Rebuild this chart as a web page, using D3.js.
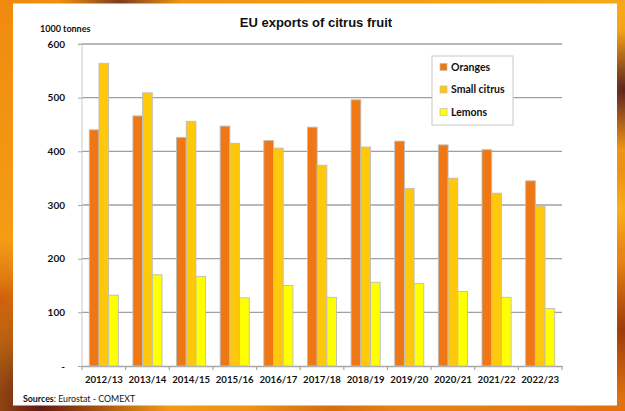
<!DOCTYPE html>
<html><head><meta charset="utf-8">
<script src="https://cdn.jsdelivr.net/npm/d3@7"></script>
<style>
html,body{margin:0;padding:0;background:#f39a10;}
svg{display:block;}
</style></head>
<body>
<script>
const categories = ["2012/13","2013/14","2014/15","2015/16","2016/17","2017/18","2018/19","2019/20","2020/21","2021/22","2022/23"];
const seriesNames = ["Oranges","Small citrus","Lemons"];
const oranges = [440,466,426,447,420,445,496,419,412,403,345];
const smallCitrus = [564,509,456,415,406,374,408,331,350,322,298];
const lemons = [132,170,167,127,150,128,156,154,139,128,107];
const yTicks = [0,100,200,300,400,500,600];
const colors = ["#F07814","#FFC80A","#FFFF00"];

const W = 625, H = 411;
const svg = d3.select("body").append("svg").attr("width", W).attr("height", H);
const defs = svg.append("defs");

// background (photo of oranges approximated with gradients)
const bg = defs.append("linearGradient").attr("id","bg").attr("x1","0").attr("y1","0").attr("x2","1").attr("y2","1");
bg.append("stop").attr("offset","0").attr("stop-color","#f08a10");
bg.append("stop").attr("offset","0.5").attr("stop-color","#f7a818");
bg.append("stop").attr("offset","1").attr("stop-color","#e07010");
svg.append("rect").attr("width",W).attr("height",H).attr("fill","url(#bg)");
function blob(id, cx, cy, r, col, op){
  const g = defs.append("radialGradient").attr("id",id);
  g.append("stop").attr("offset","0").attr("stop-color",col).attr("stop-opacity",op);
  g.append("stop").attr("offset","1").attr("stop-color",col).attr("stop-opacity",0);
  svg.append("circle").attr("cx",cx).attr("cy",cy).attr("r",r).attr("fill",`url(#${id})`);
}
blob("b1", 40, 405, 130, "#5a1010", 0.95);
blob("b2", 120, 0, 60, "#4a1a20", 0.7);
blob("b3", 625, 90, 60, "#4a1420", 0.9);
blob("b4", 625, 330, 70, "#8a2a08", 0.8);
blob("b5", 0, 300, 60, "#c04008", 0.6);
blob("b6", 330, 411, 80, "#c05010", 0.5);
blob("b7", 620, 210, 40, "#ffb818", 0.8);

// white panel
svg.append("rect").attr("x",13).attr("y",3.5).attr("width",604).attr("height",402).attr("fill","#fff");

const plot = {l:82, r:562, t:44, b:366};
const x = d3.scaleBand().domain(categories).range([plot.l, plot.r]).paddingInner(0).paddingOuter(0);
const inner = d3.scaleBand().domain(seriesNames).range([x.bandwidth()/6, x.bandwidth()*5/6]).padding(0);
const y = d3.scaleLinear().domain([0,600]).range([plot.b, plot.t]);

// gridlines
svg.append("g").selectAll("line").data(yTicks.filter(d=>d>0)).join("line")
  .attr("x1",plot.l).attr("x2",plot.r).attr("y1",d=>y(d)).attr("y2",d=>y(d))
  .attr("stroke","#a0a0a0").attr("stroke-width",1.3);

// y axis
const yAxis = d3.axisLeft(y).tickValues(yTicks).tickSize(4).tickPadding(13)
  .tickFormat(d => d === 0 ? "-" : d3.format("d")(d));
const yg = svg.append("g").attr("transform",`translate(${plot.l},0)`).call(yAxis);
yg.select(".domain").attr("stroke","#c8c8c8").attr("d", `M-4,${plot.t}H0V${plot.b}`);
yg.selectAll(".tick line").attr("stroke","#a6a6a6");
yg.selectAll(".tick text").attr("font-family","Lato, 'Open Sans', sans-serif").attr("font-weight","bold")
  .attr("font-size","10px").attr("fill","#111");

// x axis
const xAxis = d3.axisBottom(x).tickSize(0).tickPadding(10);
const xg = svg.append("g").attr("transform",`translate(0,${plot.b})`).call(xAxis);
xg.select(".domain").attr("stroke","#a6a6a6").attr("stroke-width",1.3);
xg.selectAll(".tick text").attr("font-family","Lato, 'Open Sans', sans-serif").attr("font-weight","bold")
  .attr("font-size","9.6px").attr("fill","#111");
// category separator ticks
svg.append("g").selectAll("line").data(categories.concat(["_end"])).join("line")
  .attr("x1",(d,i)=>plot.l + i*x.bandwidth()).attr("x2",(d,i)=>plot.l + i*x.bandwidth())
  .attr("y1",plot.b).attr("y2",plot.b+4).attr("stroke","#a6a6a6").attr("stroke-width",1.2);

// bars
const seriesData = [oranges, smallCitrus, lemons];
seriesNames.forEach((name, si) => {
  svg.append("g").selectAll("rect").data(categories).join("rect")
    .attr("x", d => x(d) + inner(name))
    .attr("y", (d,i) => y(seriesData[si][i]))
    .attr("width", inner.bandwidth())
    .attr("height", (d,i) => y(0) - y(seriesData[si][i]))
    .attr("fill", colors[si])
    .attr("stroke","#bdbdbd").attr("stroke-width",0.9);
});

// title
svg.append("text").attr("x",316).attr("y",27).attr("text-anchor","middle")
  .attr("font-family","'Liberation Sans', Arial, sans-serif").attr("font-weight","bold")
  .attr("font-size","13px").attr("fill","#111").text("EU exports of citrus fruit");
svg.append("text").attr("x",40).attr("y",32)
  .attr("font-family","Lato, sans-serif").attr("font-weight","bold")
  .attr("font-size","9px").attr("fill","#111").text("1000 tonnes");

// legend
const lg = svg.append("g");
lg.append("rect").attr("x",432).attr("y",56).attr("width",81).attr("height",69)
  .attr("fill","#fff").attr("stroke","#c8c8c8").attr("stroke-width",1);
seriesNames.forEach((name,i) => {
  const cy = 67 + i*22.5;
  lg.append("rect").attr("x",440).attr("y",cy-3.5).attr("width",7).attr("height",7)
    .attr("fill",colors[i]).attr("stroke","#bdbdbd").attr("stroke-width",0.7);
  lg.append("text").attr("x",451).attr("y",cy+3.8)
    .attr("font-family","Lato, sans-serif").attr("font-weight","bold")
    .attr("font-size","10.5px").attr("fill","#111").text(name);
});

// source
const st = svg.append("text").attr("x",23).attr("y",402)
  .attr("font-family","Lato, sans-serif").attr("font-size","8.8px").attr("fill","#111");
st.append("tspan").attr("font-weight","bold").text("Sources");
st.append("tspan").text(": Eurostat - COMEXT");
</script>
</body></html>
